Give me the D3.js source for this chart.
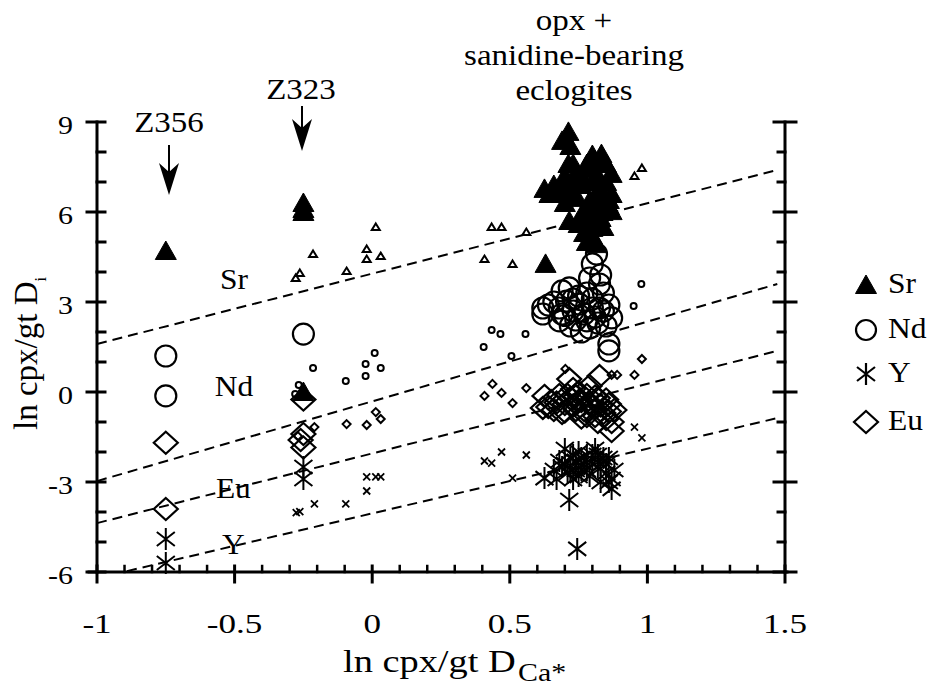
<!DOCTYPE html>
<html>
<head>
<meta charset="utf-8">
<script src="https://cdn.jsdelivr.net/npm/d3@7"></script>
<style>
  body { margin: 0; background: #fff; }
  svg text { font-family: "Liberation Serif", "Times New Roman", serif; fill: #000; }
</style>
</head>
<body>
<svg id="chart"></svg>
<script>
// ---- values ----
const xTicks = [-1, -0.5, 0, 0.5, 1, 1.5];
const xTickLabels = ["-1", "-0.5", "0", "0.5", "1", "1.5"];
const yTicks = [9, 6, 3, 0, -3, -6];
const yTickLabels = ["9", "6", "3", "0", "-3", "-6"];
const legendNames = ["Sr", "Nd", "Y", "Eu"];

// this study (large symbols): [ln D_Ca*, ln D_i]
const srMain = [
  [-0.75, 4.7], [-0.25, 6.3], [-0.25, 6.1], [-0.25, 6.0], [-0.25, 0.0],
  [0.713, 8.67], [0.69, 8.37], [0.713, 7.6], [0.626, 6.77], [0.644, 6.6],
  [0.69, 6.97], [0.70, 7.2], [0.833, 7.93], [0.81, 7.7], [0.79, 7.43],
  [0.87, 7.27], [0.764, 7.13], [0.85, 7.0], [0.826, 6.8], [0.87, 6.6],
  [0.745, 6.47], [0.79, 6.37], [0.716, 6.6], [0.84, 6.3], [0.87, 6.03],
  [0.837, 6.0], [0.716, 5.7], [0.75, 5.6], [0.8, 5.47], [0.78, 5.9],
  [0.815, 4.93], [0.80, 5.2], [0.63, 4.27], [0.76, 6.9], [0.82, 7.2],
  [0.74, 7.3], [0.86, 6.4], [0.77, 5.3], [0.66, 6.9], [0.68, 6.6],
  [0.72, 6.9], [0.73, 7.6], [0.75, 7.0], [0.78, 7.6], [0.80, 7.0],
  [0.82, 6.5], [0.85, 7.6], [0.86, 6.2], [0.83, 5.8], [0.79, 5.6],
  [0.76, 5.9], [0.81, 6.1], [0.72, 8.2], [0.80, 7.9], [0.84, 5.5],
  [0.78, 5.0], [0.70, 6.3]
];
const ndMain = [
  [-0.75, 1.2], [-0.75, -0.13], [-0.25, 1.93],
  [0.815, 4.6], [0.80, 4.27], [0.79, 3.8], [0.826, 3.6], [0.69, 3.37],
  [0.716, 3.47], [0.62, 2.8], [0.62, 2.6], [0.68, 2.37], [0.68, 2.8],
  [0.73, 2.7], [0.706, 3.03], [0.753, 2.93], [0.78, 2.37], [0.79, 2.13],
  [0.826, 2.8], [0.87, 2.47], [0.86, 1.6], [0.86, 1.37], [0.80, 3.1],
  [0.77, 2.6], [0.84, 3.3], [0.85, 2.2], [0.74, 2.4], [0.70, 2.55],
  [0.81, 2.5], [0.66, 3.0], [0.75, 3.2], [0.83, 3.9], [0.64, 2.9],
  [0.72, 2.2], [0.76, 2.0], [0.82, 2.3], [0.84, 2.7], [0.80, 2.8],
  [0.73, 3.1], [0.78, 3.3], [0.86, 2.9], [0.69, 2.6]
];
const euMain = [
  [-0.75, -1.69], [-0.75, -3.9], [-0.25, -0.25], [-0.25, -1.4], [-0.26, -1.6], [-0.25, -1.85],
  [0.826, 0.53], [0.716, 0.43], [0.626, -0.13], [0.62, -0.53], [0.65, -0.3],
  [0.68, -0.1], [0.70, -0.4], [0.72, -0.2], [0.74, -0.6], [0.76, -0.3],
  [0.78, -0.1], [0.80, -0.5], [0.82, -0.2], [0.84, -0.7], [0.86, -0.4],
  [0.87, -1.0], [0.87, -1.3], [0.85, -0.9], [0.73, 0.1], [0.79, 0.2],
  [0.69, -0.7], [0.76, -0.85], [0.81, -0.8], [0.88, -0.6], [0.66, -0.6], [0.75, 0.0],
  [0.64, -0.5], [0.67, -0.35], [0.71, -0.1], [0.73, -0.45], [0.75, -0.3],
  [0.77, -0.6], [0.79, -0.35], [0.81, -0.15], [0.83, -0.45], [0.85, -0.25],
  [0.78, -0.8], [0.82, -1.0], [0.74, -0.15], [0.70, -0.65], [0.86, -0.65]
];
const yMain = [
  [-0.75, -4.9], [-0.75, -5.7], [-0.25, -2.5], [-0.25, -2.9],
  [0.626, -2.87], [0.716, -3.6], [0.745, -5.23], [0.87, -3.23], [0.68, -2.3],
  [0.70, -1.9], [0.72, -2.2], [0.74, -2.6], [0.75, -2.0], [0.77, -2.4],
  [0.79, -2.8], [0.80, -2.1], [0.82, -2.5], [0.84, -2.2], [0.85, -2.7],
  [0.86, -3.0], [0.66, -2.6], [0.71, -2.7], [0.76, -2.2], [0.81, -1.9],
  [0.83, -3.0], [0.88, -2.6], [0.73, -2.9], [0.69, -2.5], [0.67, -2.9],
  [0.70, -2.4], [0.72, -2.6], [0.74, -2.3], [0.76, -2.6], [0.78, -2.1],
  [0.78, -2.6], [0.80, -2.4], [0.82, -2.1], [0.83, -2.4], [0.85, -2.4],
  [0.86, -2.2], [0.87, -2.9], [0.75, -2.8], [0.73, -2.1]
];

// literature data (small symbols)
const srLit = [
  [0.013, 5.5], [-0.215, 4.6], [-0.02, 4.77], [-0.02, 4.43], [0.031, 4.53],
  [-0.093, 4.03], [-0.263, 3.97], [-0.278, 3.8], [0.434, 5.5], [0.47, 5.5],
  [0.56, 5.33], [0.408, 4.43], [0.51, 4.27], [0.953, 7.2], [0.98, 7.47]
];
const ndLit = [
  [-0.215, 0.8], [-0.096, 0.37], [-0.024, 0.93], [0.009, 1.3], [-0.024, 0.53],
  [0.031, 0.8], [-0.267, 0.23], [-0.28, -0.07], [0.434, 2.07], [0.466, 1.93],
  [0.405, 1.5], [0.506, 1.2], [0.557, 1.93], [0.978, 3.6], [0.95, 2.87]
];
const euLit = [
  [-0.21, -1.17], [-0.093, -1.07], [-0.02, -1.1], [0.013, -0.67], [0.031, -0.9],
  [-0.27, -1.47], [0.437, 0.27], [0.47, -0.03], [0.408, -0.13], [0.51, -0.37],
  [0.56, 0.13], [0.702, 0.77], [0.87, 0.57], [0.89, 0.57], [0.953, 0.57], [0.98, 1.1]
];
const yLit = [
  [-0.02, -2.83], [0.013, -2.83], [0.031, -2.83], [-0.02, -3.3], [-0.276, -4.02],
  [-0.263, -3.99], [-0.21, -3.73], [-0.096, -3.73], [0.408, -2.3], [0.434, -2.37],
  [0.47, -2.0], [0.51, -2.87], [0.56, -2.1], [0.953, -1.17], [0.98, -1.53]
];

// dashed reference lines, [start, end]
const lineSr = [[-1, 1.6], [1.472, 7.4]];
const lineNd = [[-1, -2.97], [1.472, 3.6]];
const lineEu = [[-1, -4.37], [1.472, 1.37]];
const lineY = [[-0.891, -5.97], [1.472, -0.87]];

// region labels: [text, x, y]
const regionLabels = [["Sr", -0.553, 3.43], ["Nd", -0.572, -0.13], ["Eu", -0.568, -3.53], ["Y", -0.546, -5.4]];

// ---- drawing ----
const W = 939, H = 686;
const svg = d3.select('#chart').attr('width', W).attr('height', H);

const x = d3.scaleLinear().domain([-1, 1.5]).range([97, 785]);
const y = d3.scaleLinear().domain([-6, 9]).range([572, 122]);

// symbol paths
const triBig = 'M0,-10L10.5,8.5L-10.5,8.5Z';
const triSmall = 'M0,-3.5L4,3L-4,3Z';
const diaBig = 'M0,-11L12,0L0,11L-12,0Z';
const diaSmall = 'M0,-4L4,0L0,4L-4,0Z';
const star = 'M0,-11V11M-9,-7L9,7M-9,7L9,-7';
const cross = 'M-3.5,-3.5L3.5,3.5M-3.5,3.5L3.5,-3.5';

function txt(g, px, py, s, size, anchor, sx) {
  return g.append('text')
    .attr('transform', `translate(${px},${py}) scale(${sx},1)`)
    .attr('font-size', size)
    .attr('text-anchor', anchor)
    .text(s);
}

// dashed lines
const line = d3.line().x(d => x(d[0])).y(d => y(d[1]));
svg.append('g').selectAll('path')
  .data([lineSr, lineNd, lineEu, lineY])
  .enter().append('path')
    .attr('d', line)
    .attr('fill', 'none')
    .attr('stroke', '#000')
    .attr('stroke-width', 2)
    .attr('stroke-dasharray', '10,6');

// axes
const ax = svg.append('g').attr('stroke', '#000').attr('stroke-linecap', 'square');
ax.append('line').attr('x1', x(-1)).attr('x2', x(-1)).attr('y1', y(9)).attr('y2', y(-6)).attr('stroke-width', 3);
ax.append('line').attr('x1', x(1.5)).attr('x2', x(1.5)).attr('y1', y(9)).attr('y2', y(-6)).attr('stroke-width', 3);
ax.append('line').attr('x1', x(-1) - 8).attr('x2', x(1.5) + 2).attr('y1', y(-6)).attr('y2', y(-6)).attr('stroke-width', 3);

const yMinor = d3.range(-6, 9.01, 1).filter(v => !yTicks.includes(v));
const xMinor = d3.range(-1, 1.501, 0.1).filter(v => !xTicks.some(t => Math.abs(t - v) < 1e-6));

// left axis ticks
ax.selectAll('.ylmaj').data(yTicks).enter().append('line')
  .attr('x1', x(-1) - 10).attr('x2', x(-1) + 8)
  .attr('y1', d => y(d)).attr('y2', d => y(d)).attr('stroke-width', 3);
ax.selectAll('.ylmin').data(yMinor).enter().append('line')
  .attr('x1', x(-1)).attr('x2', x(-1) + 8)
  .attr('y1', d => y(d)).attr('y2', d => y(d)).attr('stroke-width', 3);
// right axis ticks
ax.selectAll('.yrmaj').data(yTicks).enter().append('line')
  .attr('x1', x(1.5) - 11).attr('x2', x(1.5) + 11)
  .attr('y1', d => y(d)).attr('y2', d => y(d)).attr('stroke-width', 3);
ax.selectAll('.yrmin').data(yMinor).enter().append('line')
  .attr('x1', x(1.5) - 7).attr('x2', x(1.5))
  .attr('y1', d => y(d)).attr('y2', d => y(d)).attr('stroke-width', 3);
// bottom axis ticks
ax.selectAll('.xmaj').data(xTicks).enter().append('line')
  .attr('x1', d => x(d)).attr('x2', d => x(d))
  .attr('y1', y(-6) - 6).attr('y2', y(-6) + 10).attr('stroke-width', 3);
ax.selectAll('.xmin').data(xMinor).enter().append('line')
  .attr('x1', d => x(d)).attr('x2', d => x(d))
  .attr('y1', y(-6) - 6).attr('y2', y(-6)).attr('stroke-width', 2.5);

// tick labels
const labels = svg.append('g');
xTicks.forEach((t, i) => txt(labels, x(t), 633, xTickLabels[i], 27, 'middle', 1.3));
yTicks.forEach((t, i) => txt(labels, 73, y(t) + 12, yTickLabels[i], 25, 'end', 1.2));

// axis titles
txt(labels, 343, 672, 'ln cpx/gt D', 32, 'start', 1.2);
txt(labels, 518, 681, 'Ca*', 26, 'start', 1.15);
const yt = labels.append('text')
  .attr('transform', 'translate(37,430) rotate(-90)')
  .attr('font-size', 33);
yt.append('tspan').text('ln cpx/gt D');
yt.append('tspan').attr('font-size', 16).attr('dy', 9).text('i');

// literature data (small symbols)
const pts = svg.append('g');
function plot(data, d, fill, sw) {
  pts.append('g').selectAll('path').data(data).enter().append('path')
    .attr('transform', p => `translate(${x(p[0])},${y(p[1])})`)
    .attr('d', d)
    .attr('fill', fill)
    .attr('stroke', '#000')
    .attr('stroke-width', sw)
    .attr('stroke-linejoin', 'miter');
}
plot(srLit, triSmall, 'none', 2);
plot(euLit, diaSmall, 'none', 2);
plot(yLit, cross, 'none', 1.8);
pts.append('g').selectAll('circle').data(ndLit).enter().append('circle')
  .attr('cx', p => x(p[0])).attr('cy', p => y(p[1])).attr('r', 3)
  .attr('fill', 'none').attr('stroke', '#000').attr('stroke-width', 2);

// this study (large symbols)
plot(euMain, diaBig, 'none', 2.2);
plot(yMain, star, 'none', 2);
pts.append('g').selectAll('circle').data(ndMain).enter().append('circle')
  .attr('cx', p => x(p[0])).attr('cy', p => y(p[1])).attr('r', 10.5)
  .attr('fill', 'none').attr('stroke', '#000').attr('stroke-width', 2.2);
plot(srMain, triBig, '#000', 1);

// region labels
regionLabels.forEach(r => txt(labels, x(r[1]), y(r[2]), r[0], 30, 'start', 1.05));

// annotations
txt(labels, 169, 132, 'Z356', 30, 'middle', 1.1);
txt(labels, 301, 99, 'Z323', 30, 'middle', 1.1);
txt(labels, 574, 30, 'opx +', 30, 'middle', 1.1);
txt(labels, 574, 65, 'sanidine-bearing', 30, 'middle', 1.1);
txt(labels, 574, 100, 'eclogites', 30, 'middle', 1.1);

function arrow(px, top, tip) {
  const g = svg.append('g');
  g.append('line').attr('x1', px).attr('x2', px).attr('y1', top).attr('y2', tip - 20)
    .attr('stroke', '#000').attr('stroke-width', 2);
  g.append('path').attr('transform', `translate(${px},${tip})`)
    .attr('d', 'M0,0L-10,-32L0,-23L10,-32Z').attr('fill', '#000');
}
arrow(169, 145, 195);
arrow(302, 106, 151);

// legend
const lg = svg.append('g');
const legY = [285, 330, 374, 422];
const legSym = [triBig, null, star, diaBig];
legendNames.forEach((n, i) => {
  if (n === 'Nd') {
    lg.append('circle').attr('cx', 866).attr('cy', legY[i]).attr('r', 10)
      .attr('fill', 'none').attr('stroke', '#000').attr('stroke-width', 2.2);
  } else {
    lg.append('path').attr('transform', `translate(866,${legY[i]})`)
      .attr('d', legSym[i])
      .attr('fill', n === 'Sr' ? '#000' : 'none')
      .attr('stroke', '#000').attr('stroke-width', n === 'Sr' ? 1 : 2.2);
  }
  txt(lg, 888, legY[i] + 8, n, 30, 'start', 1.05);
});
</script>
</body>
</html>
